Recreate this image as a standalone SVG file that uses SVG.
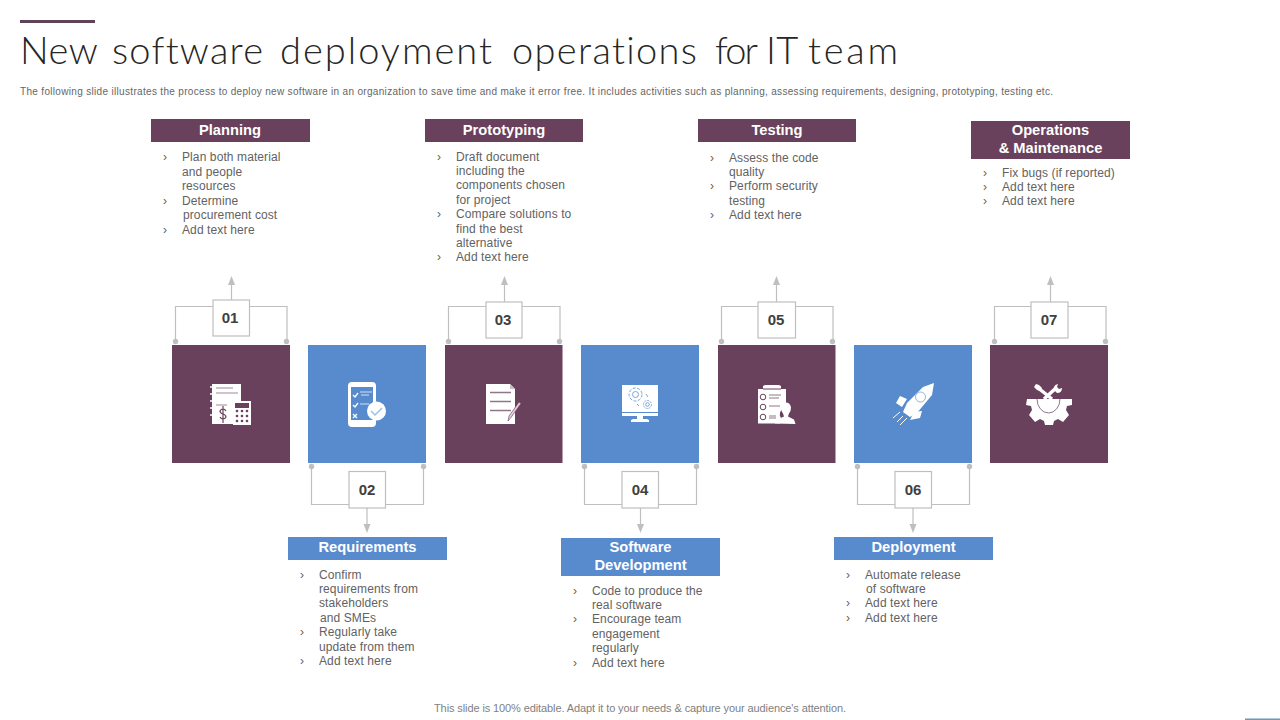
<svg xmlns="http://www.w3.org/2000/svg" width="1280" height="720" viewBox="0 0 1280 720">
<style>
text{font-family:"Liberation Sans",Arial,sans-serif;font-variant-ligatures:none}
.t{font-size:12px;fill:#626262;letter-spacing:.1px}
.b{font-size:11px;fill:#7f7f7f}
.h{font-size:14.700px;font-weight:700;fill:#fff;text-anchor:middle}
.n{font-size:15px;font-weight:700;fill:#404040;text-anchor:middle}
.m{fill:#6a415c}.u{fill:#578bce}
.w{fill:#fff}
.ln{fill:none;stroke:#bfbfbf;stroke-width:1.200}
.box{fill:#fff;stroke:#bfbfbf;stroke-width:1.200}
.d{fill:#bfbfbf}
.im{stroke:#6a415c;stroke-width:1;fill:none}
</style>
<rect id="accent" x="20" y="20" width="75" height="3" fill="#5f4358"/>
<text id="title" y="64" font-size="38" style="font-family:Lato,'Liberation Sans',sans-serif;font-weight:300" fill="#262626"><tspan x="20" textLength="77" lengthAdjust="spacing">New</tspan> <tspan x="112" textLength="151" lengthAdjust="spacing">software</tspan> <tspan x="280" textLength="212" lengthAdjust="spacing">deployment</tspan> <tspan x="512" textLength="185" lengthAdjust="spacing">operations</tspan> <tspan x="715" textLength="42" lengthAdjust="spacing">for</tspan> <tspan x="766" textLength="31" lengthAdjust="spacing">IT</tspan> <tspan x="808" textLength="90" lengthAdjust="spacing">team</tspan></text>
<text id="subtitle" x="20" y="94.500" font-size="10" textLength="1033" lengthAdjust="spacing" fill="#666">The following slide illustrates the process to deploy new software in an organization to save time and make it error free. It includes activities such as planning, assessing requirements, designing, prototyping, testing etc.</text>

<g id="connectors">
<path class="ln" d="M175.500 341V306.500H287V341M231.500 300V283"/>
<path class="ln" d="M448.500 341V306.500H560V341M504.500 302V283"/>
<path class="ln" d="M721.500 341V306.500H833V341M776.500 302V283"/>
<path class="ln" d="M994.500 341V306.500H1106V341M1050.500 302V283"/>
<path class="ln" d="M311.500 467V504.500H423.500V467M367 508V526"/>
<path class="ln" d="M584.500 467V504.500H696.500V467M640.500 508V526"/>
<path class="ln" d="M857.500 467V504.500H969.500V467M913 508V526"/>
<g class="d">
<path d="M231.500 276l3.500 9h-7zM504.500 276l3.500 9h-7zM776.500 276l3.500 9h-7zM1050.500 276l3.500 9h-7zM367 533l-3.500-9h7zM640.500 533l-3.500-9h7zM913 533l-3.500-9h7z"/>
<circle cx="175.500" cy="341.500" r="2.700"/><circle cx="286.500" cy="341.500" r="2.700"/>
<circle cx="448.500" cy="341.500" r="2.700"/><circle cx="559.500" cy="341.500" r="2.700"/>
<circle cx="721.500" cy="341.500" r="2.700"/><circle cx="832.500" cy="341.500" r="2.700"/>
<circle cx="994.500" cy="341.500" r="2.700"/><circle cx="1105.500" cy="341.500" r="2.700"/>
<circle cx="311.500" cy="466.500" r="2.700"/><circle cx="423.500" cy="466.500" r="2.700"/>
<circle cx="584.500" cy="466.500" r="2.700"/><circle cx="696.500" cy="466.500" r="2.700"/>
<circle cx="857.500" cy="466.500" r="2.700"/><circle cx="969.500" cy="466.500" r="2.700"/>
</g>
</g>

<g id="step-01">
<rect class="m" x="172" y="345" width="118" height="118"/>
<path class="w" d="M212 384h29v20h-7v20h-22z"/>
<path d="M216 388h17M216 393h22M216 405h11" stroke="#a08a9a" stroke-width="1.200" fill="none"/>
<path d="M210 387h3M210 394h3M210 401h3M210 408h3M210 415h3" stroke="#fff" stroke-width="1.500"/>
<path d="M226 411q-1-2-3-2t-3 2q0 2 3 3t3 3q-1 2-3 2t-3-2M223 406v17" stroke="#6a415c" stroke-width="1.200" fill="none"/>
<rect class="w" x="233" y="401" width="18" height="24"/>
<rect class="m" x="235" y="403" width="14" height="5"/>
<g class="m"><circle cx="237" cy="411" r="1.300"/><circle cx="242" cy="411" r="1.300"/><circle cx="247" cy="411" r="1.300"/><circle cx="237" cy="416" r="1.300"/><circle cx="242" cy="416" r="1.300"/><circle cx="247" cy="416" r="1.300"/><circle cx="237" cy="421" r="1.300"/><circle cx="242" cy="421" r="1.300"/><circle cx="247" cy="421" r="1.300"/></g>
<rect class="box" x="213" y="300" width="36.500" height="36"/>
<text class="n" x="230" y="323">01</text>
</g>
<g id="label-01">
<rect x="151" y="119" width="159" height="23" fill="#6a415c"/>
<text class="h" x="230" y="135">Planning</text>
<text class="t"><tspan x="163" y="161">›</tspan><tspan x="182" y="161">Plan both material</tspan><tspan x="182" y="176">and people</tspan><tspan x="182" y="190">resources</tspan><tspan x="163" y="205">›</tspan><tspan x="182" y="205">Determine</tspan><tspan x="183" y="219">procurement cost</tspan><tspan x="163" y="234">›</tspan><tspan x="182" y="234">Add text here</tspan></text>
</g>

<g id="step-02">
<rect class="u" x="308" y="345" width="118" height="118"/>
<rect class="w" x="348" y="382" width="28" height="45" rx="4"/>
<rect class="u" x="351" y="387" width="22" height="33"/>
<path d="M353 395l2 2 3-4M353 405l2 2 3-4M353 414l4 4M357 414l-4 4" stroke="#fff" stroke-width="1.300" fill="none"/>
<path d="M360 392h12M361 395h8M360 404h9" stroke="#cfe0f3" stroke-width="1" fill="none"/>
<circle cx="376.500" cy="411" r="9.500" fill="#fff"/>
<path d="M371 411l4 4 7-7" stroke="#9fbfe3" stroke-width="1.500" fill="none"/>
<rect class="box" x="349" y="471.500" width="36.500" height="36.500"/>
<text class="n" x="367" y="495">02</text>
</g>
<g id="label-02">
<rect x="288" y="537" width="159" height="23" fill="#578bce"/>
<text class="h" x="367.500" y="552">Requirements</text>
<text class="t"><tspan x="300" y="579">›</tspan><tspan x="319" y="579">Confirm</tspan><tspan x="319" y="593">requirements from</tspan><tspan x="319" y="607">stakeholders</tspan><tspan x="320" y="622">and SMEs</tspan><tspan x="300" y="636">›</tspan><tspan x="319" y="636">Regularly take</tspan><tspan x="319" y="651">update from them</tspan><tspan x="300" y="665">›</tspan><tspan x="319" y="665">Add text here</tspan></text>
</g>

<g id="step-03">
<rect class="m" x="445" y="345" width="117.500" height="118"/>
<path class="w" d="M486 384h24l5 5v35h-29z"/>
<path d="M510 384v5h5z" fill="#c9bcc5"/>
<path d="M490 392.500h21M490 401.500h21M490 410.500h21" stroke="#8f7688" stroke-width="1.400" fill="none"/>
<path d="M508 421l1-5 10-14 2 1.500-10 14z" fill="#e3c6d8" stroke="#6a415c" stroke-width=".6"/>
<rect class="box" x="486" y="302" width="36" height="36"/>
<text class="n" x="503" y="325">03</text>
</g>
<g id="label-03">
<rect x="425" y="119" width="158" height="23" fill="#6a415c"/>
<text class="h" x="504" y="135">Prototyping</text>
<text class="t"><tspan x="437" y="161">›</tspan><tspan x="456" y="161">Draft document</tspan><tspan x="456" y="175">including the</tspan><tspan x="456" y="189">components chosen</tspan><tspan x="456" y="204">for project</tspan><tspan x="437" y="218">›</tspan><tspan x="456" y="218">Compare solutions to</tspan><tspan x="456" y="233">find the best</tspan><tspan x="456" y="247">alternative</tspan><tspan x="437" y="261">›</tspan><tspan x="456" y="261">Add text here</tspan></text>
</g>

<g id="step-04">
<rect class="u" x="581" y="345" width="118" height="118"/>
<rect class="w" x="622" y="385" width="36" height="27"/>
<rect class="w" x="622" y="413" width="36" height="3"/>
<path class="w" d="M637 416h6v3h4l2 1v2h-18v-2l2-1h4z"/>
<g fill="none" stroke="#6f9ad4" stroke-width=".9">
<circle cx="635.500" cy="394.500" r="3"/><circle cx="635.500" cy="394.500" r="6.500" stroke-dasharray="3 1.500"/>
<circle cx="647.500" cy="404.500" r="1.800"/><circle cx="647.500" cy="404.500" r="4" stroke-dasharray="2 1"/>
<path d="M646 394l2 3M637 404l2 2"/>
</g>
<rect class="box" x="622" y="471.500" width="36.500" height="36.500"/>
<text class="n" x="640" y="495">04</text>
</g>
<g id="label-04">
<rect x="561" y="538" width="159" height="38" fill="#578bce"/>
<text class="h" x="640.500" y="552">Software</text>
<text class="h" x="640.500" y="570">Development</text>
<text class="t"><tspan x="573" y="595">›</tspan><tspan x="592" y="595">Code to produce the</tspan><tspan x="592" y="609">real software</tspan><tspan x="573" y="623">›</tspan><tspan x="592" y="623">Encourage team</tspan><tspan x="592" y="638">engagement</tspan><tspan x="592" y="652">regularly</tspan><tspan x="573" y="667">›</tspan><tspan x="592" y="667">Add text here</tspan></text>
</g>

<g id="step-05">
<rect class="m" x="718" y="345" width="117.500" height="118"/>
<path class="w" d="M758 389h5v-3l2-1h14l2 1v3h5v19h-2q-5 3-4 8l2 4-2 3.500h-22z"/>
<path class="w" d="M775 423.500v-3l9-4-1-3q-2-2-2-6 1-5 5-5t5 5q0 4-2 6l-1 3 6 3 1.500 4.500z"/>
<path class="im" d="M763 389h18"/>
<g class="im" stroke-width=".8"><circle cx="763" cy="397" r="2.800"/><circle cx="763" cy="407" r="2.800"/><circle cx="763" cy="417" r="2.800"/></g>
<path d="M769 395h12M769 398h10M769 406h11M769 416h7M769 418h7" stroke="#8f7688" stroke-width="1" fill="none"/>
<rect class="box" x="758" y="302" width="37.500" height="36"/>
<text class="n" x="776" y="325">05</text>
</g>
<g id="label-05">
<rect x="698" y="119" width="158" height="23" fill="#6a415c"/>
<text class="h" x="777" y="135">Testing</text>
<text class="t"><tspan x="710" y="162">›</tspan><tspan x="729" y="162">Assess the code</tspan><tspan x="729" y="176">quality</tspan><tspan x="710" y="190">›</tspan><tspan x="729" y="190">Perform security</tspan><tspan x="729" y="205">testing</tspan><tspan x="710" y="219">›</tspan><tspan x="729" y="219">Add text here</tspan></text>
</g>

<g id="step-06">
<rect class="u" x="854" y="345" width="118" height="118"/>
<path class="w" d="M934 383l-11 4-16 16-4 9 7 5 7-4 15-18z"/>
<path class="w" d="M896 403l4-7 7 3-5 8zM910 420l4-8 8-1-2 7z"/>
<circle cx="920.500" cy="397" r="5" fill="none" stroke="#8fb2e0" stroke-width="1"/>
<path d="M893 418l7-6M897 422l6-6M900 425l7-7" stroke="#fff" stroke-width="1" fill="none"/>
<rect class="box" x="895" y="471.500" width="36.500" height="36.500"/>
<text class="n" x="913" y="495">06</text>
</g>
<g id="label-06">
<rect x="834" y="537" width="159" height="23" fill="#578bce"/>
<text class="h" x="913.500" y="552">Deployment</text>
<text class="t"><tspan x="846" y="579">›</tspan><tspan x="865" y="579">Automate release</tspan><tspan x="866" y="593">of software</tspan><tspan x="846" y="607">›</tspan><tspan x="865" y="607">Add text here</tspan><tspan x="846" y="622">›</tspan><tspan x="865" y="622">Add text here</tspan></text>
</g>

<g id="step-07">
<rect class="m" x="990" y="345" width="118" height="118"/>
<path class="w" d="M1027 399h45v6l-5 1-1 4 3 5-6 7-5-3-4 2-1 4h-8l-1-4-4-2-5 3-6-7 3-5-1-4-5-1z"/>
<path d="M1037 399a11.500 14 0 0 0 23 0" fill="#fff" stroke="#8f7688" stroke-width="1"/>
<path d="M1052 399l-15-12" stroke="#fff" stroke-width="3.500"/>
<path d="M1037 390l-3-3 2-3 3 1 3 3-2 3z" fill="#fff"/>
<path d="M1044 399l12-11" stroke="#fff" stroke-width="3.500"/>
<path d="M1054 390q-1-5 4-6l-1 3 2 2 3-1q0 5-5 5z" fill="#fff"/>
<rect class="box" x="1031" y="302" width="37" height="36"/>
<text class="n" x="1049" y="325">07</text>
</g>
<g id="label-07">
<rect x="971" y="121" width="159" height="38" fill="#6a415c"/>
<text class="h" x="1050.500" y="135">Operations</text>
<text class="h" x="1050.500" y="153">&amp; Maintenance</text>
<text class="t"><tspan x="983" y="177">›</tspan><tspan x="1002" y="177">Fix bugs (if reported)</tspan><tspan x="983" y="191">›</tspan><tspan x="1002" y="191">Add text here</tspan><tspan x="983" y="205">›</tspan><tspan x="1002" y="205">Add text here</tspan></text>
</g>

<text id="footer" x="434" y="711.500" class="b" textLength="412" lengthAdjust="spacing">This slide is 100% editable. Adapt it to your needs &amp; capture your audience's attention.</text>
<rect id="corner" x="1245" y="718.500" width="35" height="1.500" fill="#6f96b5"/>
</svg>
